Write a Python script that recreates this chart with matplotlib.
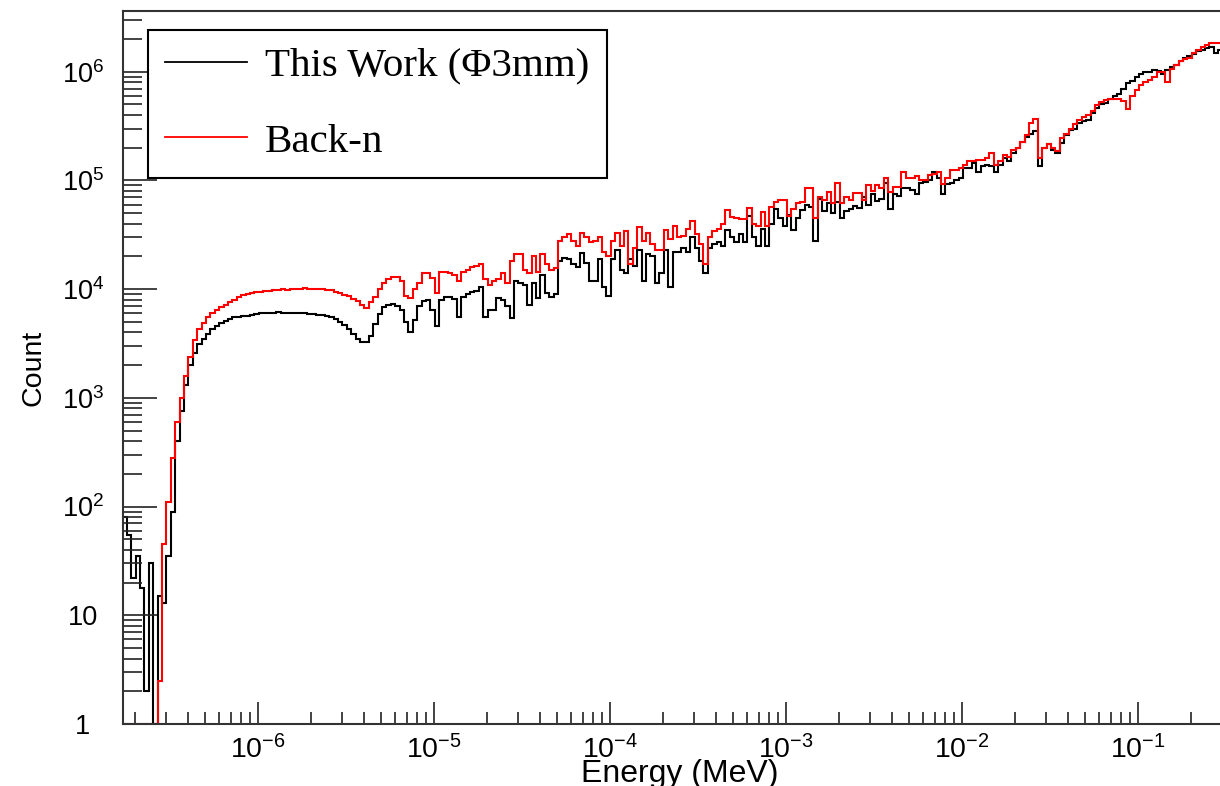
import numpy as np
import matplotlib
matplotlib.use('Agg')
import matplotlib.pyplot as plt
from matplotlib.ticker import FixedLocator, FuncFormatter, LogLocator, NullFormatter

plt.rcParams['font.family'] = ['Liberation Sans', 'DejaVu Sans']
plt.rcParams['mathtext.fontset'] = 'custom'
plt.rcParams['mathtext.rm'] = 'Liberation Sans'
plt.rcParams['mathtext.it'] = 'Liberation Sans:italic'
plt.rcParams['mathtext.bf'] = 'Liberation Sans:bold'

# ---- histogram binning (log-uniform, 40 bins per decade) ----
LOG_E_MIN, LOG_E_MAX, N_BINS = -6.77, -0.52, 250

# ---- counts per bin ----
this_work = [
    80, 55, 22, 35, 18, 2, 30, 0, 15, 13,
    35, 90, 400, 750, 1300, 2000, 2600, 3100, 3500, 3900,
    4300, 4600, 4900, 5100, 5300, 5500, 5600, 5700, 5700, 5800,
    5900, 6000, 6000, 6100, 6100, 6200, 6100, 6100, 6000, 6000,
    6100, 6000, 5900, 5900, 5800, 5800, 5700, 5600, 5300, 5000,
    4700, 4300, 3900, 3500, 3300, 3300, 3700, 4800, 5900, 6800,
    7200, 7300, 7000, 6400, 5000, 4000, 5200, 7000, 7800, 7900,
    6500, 4600, 8000, 8500, 8400, 8200, 5600, 8500, 9000, 9400,
    9600, 10500, 5600, 6500, 6500, 8300, 8000, 7000, 5400, 12000,
    11500, 11000, 7200, 11500, 8300, 13500, 9300, 8500, 9000, 18000,
    19500, 19000, 17000, 16000, 21500, 17500, 12000, 12000, 19000, 10500,
    8600, 19000, 23000, 15000, 14000, 19000, 16500, 23000, 12000, 21000,
    20000, 11500, 14000, 23000, 10500, 22000, 22000, 24000, 22000, 30000,
    24000, 18000, 14000, 24000, 26000, 27000, 25000, 35000, 30000, 27000,
    32000, 27000, 47000, 30000, 25000, 36000, 25000, 40000, 55000, 45000,
    38000, 48000, 35000, 45000, 54000, 60000, 57000, 28000, 68000, 52000,
    62000, 50000, 64000, 45000, 52000, 55000, 58000, 56000, 70000, 60000,
    75000, 65000, 68000, 95000, 55000, 75000, 72000, 85000, 85000, 82000,
    75000, 95000, 97000, 100000, 120000, 105000, 75000, 92000, 95000, 100000,
    105000, 130000, 130000, 145000, 120000, 135000, 140000, 135000, 120000, 140000,
    160000, 150000, 180000, 200000, 225000, 250000, 270000, 285000, 135000, 200000,
    215000, 190000, 180000, 220000, 260000, 290000, 300000, 340000, 350000, 360000,
    420000, 460000, 500000, 520000, 560000, 600000, 620000, 700000, 780000, 830000,
    900000, 950000, 1000000, 1000000, 1030000, 1020000, 950000, 1030000, 1100000, 1150000,
    1250000, 1350000, 1400000, 1450000, 1550000, 1600000, 1650000, 1700000, 1500000, 1600000,
]

back_n = [
    0, 0, 0, 0, 0, 0, 0, 0, 2.5, 45,
    110, 280, 600, 1000, 1600, 2400, 3400, 4300, 4900, 5500,
    6000, 6400, 6900, 7200, 7600, 7900, 8400, 8800, 9000, 9200,
    9400, 9500, 9700, 9600, 9800, 9900, 10000, 9900, 10100, 10000,
    10100, 10200, 10000, 10100, 10000, 10100, 9900, 9800, 9500, 9200,
    8900, 8600, 8200, 7800, 7200, 6700, 7600, 8500, 10000, 11500,
    12500, 13000, 13000, 12000, 8600, 8300, 10000, 11500, 14000, 14000,
    12800, 9300, 14500, 14500, 14000, 13500, 12000, 14500, 15000, 16000,
    16500, 17000, 12500, 11000, 12000, 12500, 14000, 11500, 18000, 21000,
    21000, 15000, 14000, 20000, 14500, 21000, 17000, 15000, 15500, 28000,
    30000, 32000, 28000, 25000, 33000, 30000, 27000, 28000, 30000, 22000,
    20000, 28000, 33000, 25000, 34000, 17000, 24000, 37000, 28000, 33000,
    26000, 23000, 23000, 35000, 29000, 38000, 30000, 31000, 36000, 42000,
    32000, 26000, 17000, 30000, 34000, 36000, 40000, 53000, 46000, 45000,
    44000, 44000, 56000, 40000, 38000, 51000, 38000, 57000, 64000, 66000,
    66000, 47000, 55000, 62000, 63000, 85000, 85000, 45000, 70000, 66000,
    78000, 62000, 95000, 62000, 70000, 66000, 77000, 77000, 66000, 90000,
    80000, 90000, 85000, 105000, 78000, 88000, 88000, 120000, 105000, 105000,
    110000, 100000, 100000, 112000, 115000, 120000, 92000, 105000, 125000, 125000,
    130000, 140000, 150000, 150000, 155000, 155000, 160000, 180000, 140000, 150000,
    170000, 165000, 190000, 200000, 225000, 260000, 340000, 370000, 160000, 200000,
    215000, 200000, 185000, 245000, 270000, 300000, 330000, 360000, 380000, 400000,
    440000, 490000, 530000, 550000, 560000, 560000, 560000, 540000, 450000, 600000,
    680000, 750000, 800000, 840000, 900000, 1000000, 1000000, 800000, 1050000, 1150000,
    1250000, 1300000, 1350000, 1500000, 1600000, 1700000, 1750000, 1850000, 1850000, 1850000,
]

legend_labels = ['This Work (\u03a63mm)', 'Back-n']
x_tick_values = [1e-6, 1e-5, 1e-4, 1e-3, 1e-2, 1e-1]
y_tick_values = [1, 10, 100, 1e3, 1e4, 1e5, 1e6]
x_title = 'Energy (MeV)'
y_title = 'Count'

# ---- figure ----
W, H = 1220, 786
fig = plt.figure(figsize=(W / 100, H / 100), dpi=100)
ax = fig.add_axes([123 / W, (H - 724) / H, 1099 / W, 713 / H])

edges = np.logspace(LOG_E_MIN, LOG_E_MAX, N_BINS + 1)
ymin = 1.0
ax.stairs(np.clip(np.array(this_work, float), ymin, None), edges, baseline=None,
          color='black', linewidth=1.5, label=legend_labels[0])
ax.stairs(np.clip(np.array(back_n, float), ymin, None), edges, baseline=None,
          color='#ff0000', linewidth=1.5, label=legend_labels[1])

ax.set_xscale('log')
ax.set_yscale('log')
ax.set_xlim(10 ** -6.767, 10 ** -0.523)
ax.set_ylim(ymin, 10 ** 6.559)

def pow_fmt(v, _):
    n = int(round(np.log10(v)))
    if n == 0:
        return '1'
    if n == 1:
        return '10'
    return r'$10^{%d}$' % n

ax.xaxis.set_major_locator(FixedLocator(x_tick_values))
ax.xaxis.set_minor_locator(LogLocator(base=10, subs=np.arange(2, 10), numticks=60))
ax.xaxis.set_major_formatter(FuncFormatter(pow_fmt))
ax.xaxis.set_minor_formatter(NullFormatter())
ax.yaxis.set_major_locator(FixedLocator(y_tick_values))
ax.yaxis.set_minor_locator(LogLocator(base=10, subs=np.arange(2, 10), numticks=60))
ax.yaxis.set_major_formatter(FuncFormatter(pow_fmt))
ax.yaxis.set_minor_formatter(NullFormatter())

ax.tick_params(which='both', direction='in', top=False, right=False, color='#222222')
ax.tick_params(axis='x', which='major', length=16, width=1.2, pad=8, labelsize=20.5)
ax.tick_params(axis='x', which='minor', length=8.3, width=1.2)
ax.tick_params(axis='y', which='major', length=24.5, width=1.2, pad=29, labelsize=19.5)
ax.tick_params(axis='y', which='minor', length=13.7, width=1.2)
plt.setp(ax.get_yticklabels(), ha='center')

for s in ['left', 'bottom', 'top']:
    ax.spines[s].set_linewidth(1.5)
    ax.spines[s].set_color('#333333')
ax.spines['right'].set_visible(False)

ax.set_xlabel(x_title, fontsize=23)
ax.xaxis.set_label_coords(0.507, -0.049)
ax.set_ylabel(y_title, fontsize=20.5)
ax.yaxis.set_label_coords(-0.07, 0.50)

leg = ax.legend(loc='upper left', bbox_to_anchor=((148 - 123) / 1099, (724 - 30) / 713),
                borderaxespad=0, prop={'family': 'Liberation Serif', 'size': 29.5},
                frameon=True, fancybox=False, edgecolor='black', framealpha=1,
                handlelength=2.0, handletextpad=0.44, labelspacing=0.93, borderpad=0.42)
leg.get_frame().set_linewidth(1.5)
for line in leg.get_lines():
    line.set_linewidth(1.3)

fig.savefig('out.png', dpi=100)
